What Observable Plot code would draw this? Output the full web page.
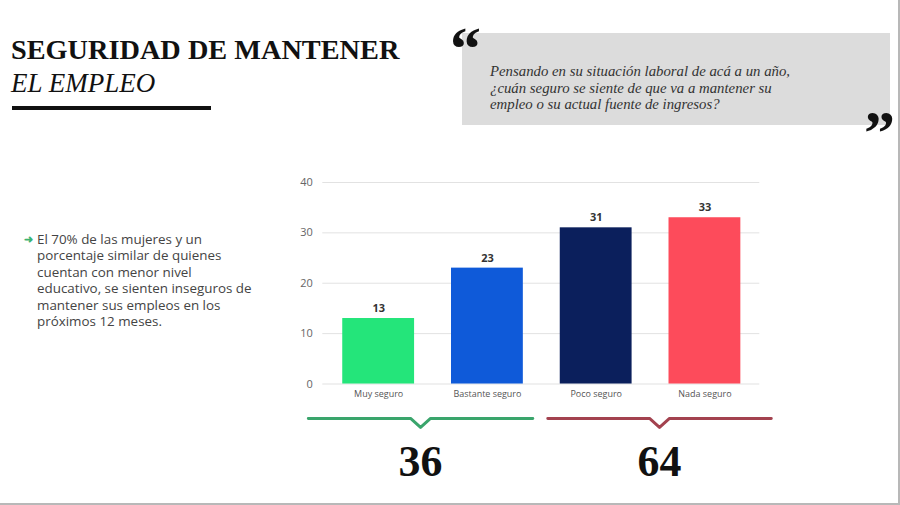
<!DOCTYPE html>
<html><head><meta charset="utf-8">
<script src="https://cdn.jsdelivr.net/npm/d3@7"></script>
<script src="https://cdn.jsdelivr.net/npm/@observablehq/plot@0.6"></script>
<style>
html,body{margin:0;padding:0;background:#fff;}
#page{position:relative;width:900px;height:505px;overflow:hidden;background:#fff;box-sizing:border-box;border-right:2px solid #b8b8b8;border-bottom:2px solid #b8b8b8;}
.abs{position:absolute;white-space:nowrap;}
#t1{left:11px;top:35.5px;font:bold 28.3px/1 "Liberation Serif",serif;color:#111;}
#t2{left:11px;top:69.5px;font:italic 27px/1 "Liberation Serif",serif;color:#111;}
#bar{left:12px;top:106px;width:199px;height:4px;background:#111;}
#qbox{left:462px;top:33px;width:428px;height:92px;background:#dcdcdc;}
#qtext{left:490px;top:63px;font:italic 14.8px/16.5px "Liberation Serif",serif;color:#333;}
#qo{left:450px;top:17px;font:bold 62px/1 "Liberation Serif",serif;color:#111;}
#qc{left:864px;top:101px;font:bold 62px/1 "Liberation Serif",serif;color:#111;}
#note{left:24px;top:231px;font:13.4px/16.4px "Open Sans",sans-serif;color:#444;padding-left:13px;}
#note .arr{position:absolute;left:0;top:0;color:#3cb371;font-size:11px;font-weight:bold;}
#chart{left:0;top:170px;}
</style></head><body>
<div id="page">
  <div class="abs" id="t1">SEGURIDAD DE MANTENER</div>
  <div class="abs" id="t2">EL EMPLEO</div>
  <div class="abs" id="bar"></div>
  <div class="abs" id="qbox"></div>
  <div class="abs" id="qo">“</div>
  <div class="abs" id="qtext">Pensando en su situación laboral de acá a un año,<br>¿cuán seguro se siente de que va a mantener su<br>empleo o su actual fuente de ingresos?</div>
  <div class="abs" id="qc">”</div>
  <div class="abs" id="note"><span class="arr">➜</span>El 70% de las mujeres y un<br>porcentaje similar de quienes<br>cuentan con menor nivel<br>educativo, se sienten inseguros de<br>mantener sus empleos en los<br>próximos 12 meses.</div>
  <div class="abs" id="chart"></div>
</div>
<script>
const categories = ["Muy seguro", "Bastante seguro", "Poco seguro", "Nada seguro"];
const values = [13, 23, 31, 33];
const yTicks = [0, 10, 20, 30, 40];
const palette = ["#24e57a", "#0f5ad9", "#0b1f5c", "#fd4b5b"];
const groupNames = ["seguro", "inseguro"];
const groupMembers = [["Muy seguro", "Bastante seguro"], ["Poco seguro", "Nada seguro"]];
const groupColors = ["#3aa56c", "#a3424f"];

const data = categories.map((c, i) => ({cat: c, value: values[i]}));

const plot = Plot.plot({
  width: 900,
  height: 320,
  marginTop: 12,
  marginBottom: 106,
  marginLeft: 323,
  marginRight: 139,
  style: {fontFamily: '"Open Sans", sans-serif', background: "transparent", overflow: "visible"},
  x: {domain: categories, paddingInner: 0.34, paddingOuter: 0.17, label: null},
  y: {domain: [0, 40], label: null},
  color: {domain: categories, range: palette},
  marks: [
    Plot.gridY(yTicks, {stroke: "#e2e2e2", strokeOpacity: 1}),
    Plot.barY(data, {x: "cat", y: "value", fill: "cat"}),
    Plot.text(data, {x: "cat", y: "value", text: d => String(d.value), dy: -10, fontWeight: "bold", fontSize: 11, fill: "#333"}),
    Plot.axisY({ticks: yTicks, tickSize: 0, tickPadding: 10, fontSize: 11, color: "#666", label: null}),
    Plot.axisX({tickSize: 0, tickPadding: 7, fontSize: 9, color: "#555", label: null})
  ]
});
document.getElementById("chart").appendChild(plot);

// Group braces and totals, positioned through the chart's x scale
const xs = plot.scale("x");
const ys = plot.scale("y");
const [r0, r1] = xs.range;
const mid = (r0 + r1) / 2;
const braceY = ys.apply(0) + 35;
const extents = [[r0 - 14, mid - 8], [mid + 7, r1 + 12]];
const svg = d3.select(plot);
const g = svg.append("g");
groupMembers.forEach((members, i) => {
  const total = d3.sum(members, m => values[categories.indexOf(m)]);
  const [a, b] = extents[i];
  const c = (a + b) / 2;
  g.append("path")
    .attr("d", `M${a},${braceY}H${c - 10}L${c},${braceY + 9}L${c + 10},${braceY}H${b}`)
    .attr("fill", "none").attr("stroke", groupColors[i]).attr("stroke-width", 3)
    .attr("stroke-linejoin", "round").attr("stroke-linecap", "round");
  g.append("text")
    .attr("x", c).attr("y", braceY + 58)
    .attr("text-anchor", "middle")
    .attr("font-family", '"Liberation Serif", serif')
    .attr("font-weight", "bold").attr("font-size", 44).attr("fill", "#111")
    .text(total);
});
</script>
</body></html>
